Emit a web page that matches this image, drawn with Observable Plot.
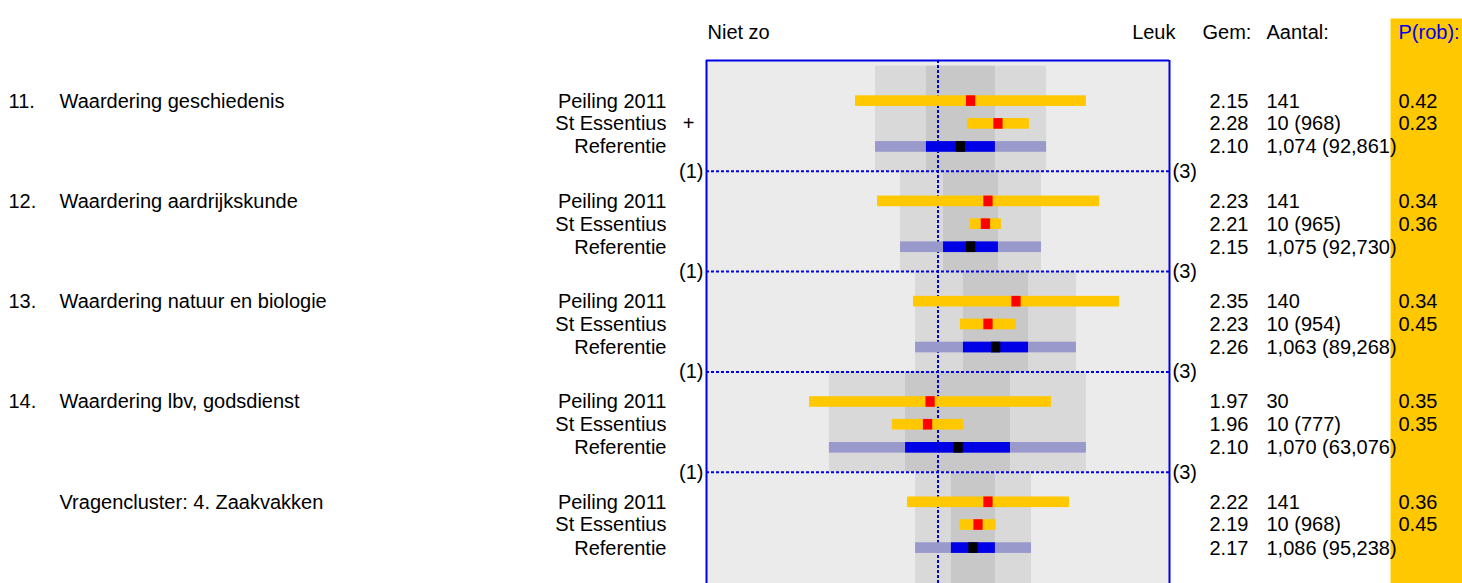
<!DOCTYPE html>
<html><head><meta charset="utf-8">
<script src="https://cdn.jsdelivr.net/npm/d3@7"></script>
<script src="https://cdn.jsdelivr.net/npm/@observablehq/plot@0.6"></script>
<style>
html,body{margin:0;padding:0;background:#fff;overflow:hidden;}
#chart svg{display:block;}
</style></head><body><div id="chart"></div>
<script>
// ---- data ----
const numbers = ["11.", "12.", "13.", "14.", ""];
const titles = ["Waardering geschiedenis", "Waardering aardrijkskunde", "Waardering natuur en biologie", "Waardering lbv, godsdienst", "Vragencluster: 4. Zaakvakken"];
const groups = ["Peiling 2011", "St Essentius", "Referentie"];
const signif = ["+", "", "", "", ""]; // marker next to St Essentius

// Peiling 2011 (yellow range + red marker)
const peilLo   = [1.644, 1.739, 1.894, 1.445, 1.868];
const peilHi   = [2.641, 2.698, 2.784, 2.490, 2.568];
const peilMark = [2.143, 2.218, 2.339, 1.968, 2.218];
// St Essentius
const essLo    = [2.127, 2.139, 2.097, 1.803, 2.096];
const essHi    = [2.395, 2.274, 2.339, 2.110, 2.251];
const essMark  = [2.261, 2.207, 2.218, 1.957, 2.175];
// Referentie (outer lavender range, inner blue range, black marker)
const refOuterLo = [1.730, 1.838, 1.903, 1.531, 1.903];
const refOuterHi = [2.469, 2.447, 2.598, 2.641, 2.404];
const refInnerLo = [1.950, 2.024, 2.110, 1.860, 2.058];
const refInnerHi = [2.248, 2.261, 2.391, 2.313, 2.248];
const refMark    = [2.099, 2.143, 2.251, 2.089, 2.153];

const gemPeil = ["2.15", "2.23", "2.35", "1.97", "2.22"];
const gemEss  = ["2.28", "2.21", "2.23", "1.96", "2.19"];
const gemRef  = ["2.10", "2.15", "2.26", "2.10", "2.17"];
const nPeil = ["141", "141", "140", "30", "141"];
const nEss  = ["10 (968)", "10 (965)", "10 (954)", "10 (777)", "10 (968)"];
const nRef  = ["1,074 (92,861)", "1,075 (92,730)", "1,063 (89,268)", "1,070 (63,076)", "1,086 (95,238)"];
const probPeil = ["0.42", "0.34", "0.34", "0.35", "0.36"];
const probEss  = ["0.23", "0.36", "0.45", "0.35", "0.45"];

const scaleLeft = "(1)", scaleRight = "(3)";
const headLeft = "Niet zo", headRight = "Leuk";
const headGem = "Gem:", headN = "Aantal:", headP = "P(rob):";

// ---- layout helpers ----
const rowOff = [0.30, 0.527, 0.757];
const half = 0.053;   // half bar thickness (section units)
const mk = 0.02;      // half marker width (scale units)
const yTop = -0.105, yBottom = 5.11;

const sections = numbers.map((n, s) => ({
  s, num: n, title: titles[s], sig: signif[s],
  y0: s === 0 ? -0.048 : s, y1: s === numbers.length - 1 ? yBottom : s + 1,
  oLo: refOuterLo[s], oHi: refOuterHi[s], iLo: refInnerLo[s], iHi: refInnerHi[s]
}));
const rows = [];
numbers.forEach((n, s) => {
  rows.push({s, g: 0, y: s + rowOff[0], lo: peilLo[s], hi: peilHi[s], m: peilMark[s], gem: gemPeil[s], n: nPeil[s], p: probPeil[s]});
  rows.push({s, g: 1, y: s + rowOff[1], lo: essLo[s], hi: essHi[s], m: essMark[s], gem: gemEss[s], n: nEss[s], p: probEss[s]});
  rows.push({s, g: 2, y: s + rowOff[2], lo: refOuterLo[s], hi: refOuterHi[s], ilo: refInnerLo[s], ihi: refInnerHi[s], m: refMark[s], gem: gemRef[s], n: nRef[s], p: ""});
});
const seps = sections.slice(1).map(d => d.s);
const yellowRows = rows.filter(d => d.g < 2);
const refRows = rows.filter(d => d.g === 2);

const YEL = "#ffc800", BLUE = "#0000e6", LAV = "#9999cc";
const dotted = {stroke: BLUE, strokeWidth: 2, strokeDasharray: "3,2"};
const head = {frameAnchor: "top-right", textAnchor: "start", lineAnchor: "middle", dy: -28};

const chart = Plot.plot({
  width: 1462, height: 583,
  marginLeft: 706, marginRight: 293, marginTop: 60, marginBottom: 0,
  style: {fontFamily: "'Liberation Sans', Arial, sans-serif", fontSize: "20px", background: "#fff", color: "#000"},
  x: {domain: [1, 3], range: [706, 1169], axis: null},
  y: {domain: [yTop, yBottom], range: [60, 583], axis: null},
  marks: [
    // P(rob) column background
    Plot.frame({fill: YEL, stroke: "none", insetLeft: 684, insetRight: -293, insetTop: -42}),
    // box background
    Plot.frame({fill: "#ebebeb", stroke: "none"}),
    // reference bands through each section
    Plot.rect(sections, {x1: "oLo", x2: "oHi", y1: "y0", y2: "y1", fill: "#d9d9d9"}),
    Plot.rect(sections, {x1: "iLo", x2: "iHi", y1: "y0", y2: "y1", fill: "#c8c8c8"}),
    // dotted guide lines
    Plot.ruleX([2], dotted),
    Plot.ruleY(seps, dotted),
    // yellow ranges and red markers
    Plot.rect(yellowRows, {x1: "lo", x2: "hi", y1: d => d.y - half, y2: d => d.y + half, fill: YEL}),
    Plot.rect(yellowRows, {x1: d => d.m - mk, x2: d => d.m + mk, y1: d => d.y - half, y2: d => d.y + half, fill: "#ff0000"}),
    // reference bar
    Plot.rect(refRows, {x1: "lo", x2: "hi", y1: d => d.y - half, y2: d => d.y + half, fill: LAV}),
    Plot.rect(refRows, {x1: "ilo", x2: "ihi", y1: d => d.y - half, y2: d => d.y + half, fill: BLUE}),
    Plot.rect(refRows, {x1: d => d.m - mk, x2: d => d.m + mk, y1: d => d.y - half, y2: d => d.y + half, fill: "#000"}),
    // box border
    Plot.ruleX([1, 3], {stroke: BLUE, strokeWidth: 2}),
    Plot.ruleY([yTop], {stroke: BLUE, strokeWidth: 2}),
    // left labels
    Plot.text(sections, {y: d => d.s + rowOff[0], text: "num", frameAnchor: "left", textAnchor: "start", dx: -698}),
    Plot.text(sections, {y: d => d.s + rowOff[0], text: "title", frameAnchor: "left", textAnchor: "start", dx: -647}),
    Plot.text(rows, {y: "y", text: d => groups[d.g], frameAnchor: "left", textAnchor: "end", dx: -40}),
    Plot.text(sections, {y: d => d.s + rowOff[1], text: "sig", frameAnchor: "left", textAnchor: "middle", dx: -18}),
    Plot.text(seps, {y: d => d, text: () => scaleLeft, frameAnchor: "left", textAnchor: "end", dx: -3}),
    Plot.text(seps, {y: d => d, text: () => scaleRight, frameAnchor: "right", textAnchor: "start", dx: 3}),
    // right columns
    Plot.text(rows, {y: "y", text: "gem", frameAnchor: "right", textAnchor: "start", dx: 40}),
    Plot.text(rows, {y: "y", text: "n", frameAnchor: "right", textAnchor: "start", dx: 97}),
    Plot.text(rows, {y: "y", text: "p", frameAnchor: "right", textAnchor: "start", dx: 229}),
    // headers
    Plot.text([headLeft], {...head, frameAnchor: "top-left", dx: 1}),
    Plot.text([headRight], {...head, textAnchor: "end", dx: 6}),
    Plot.text([headGem], {...head, dx: 33}),
    Plot.text([headN], {...head, dx: 97}),
    Plot.text([headP], {...head, dx: 229, fill: "#0000ee"})
  ]
});
document.getElementById("chart").appendChild(chart);
</script>
</body></html>
